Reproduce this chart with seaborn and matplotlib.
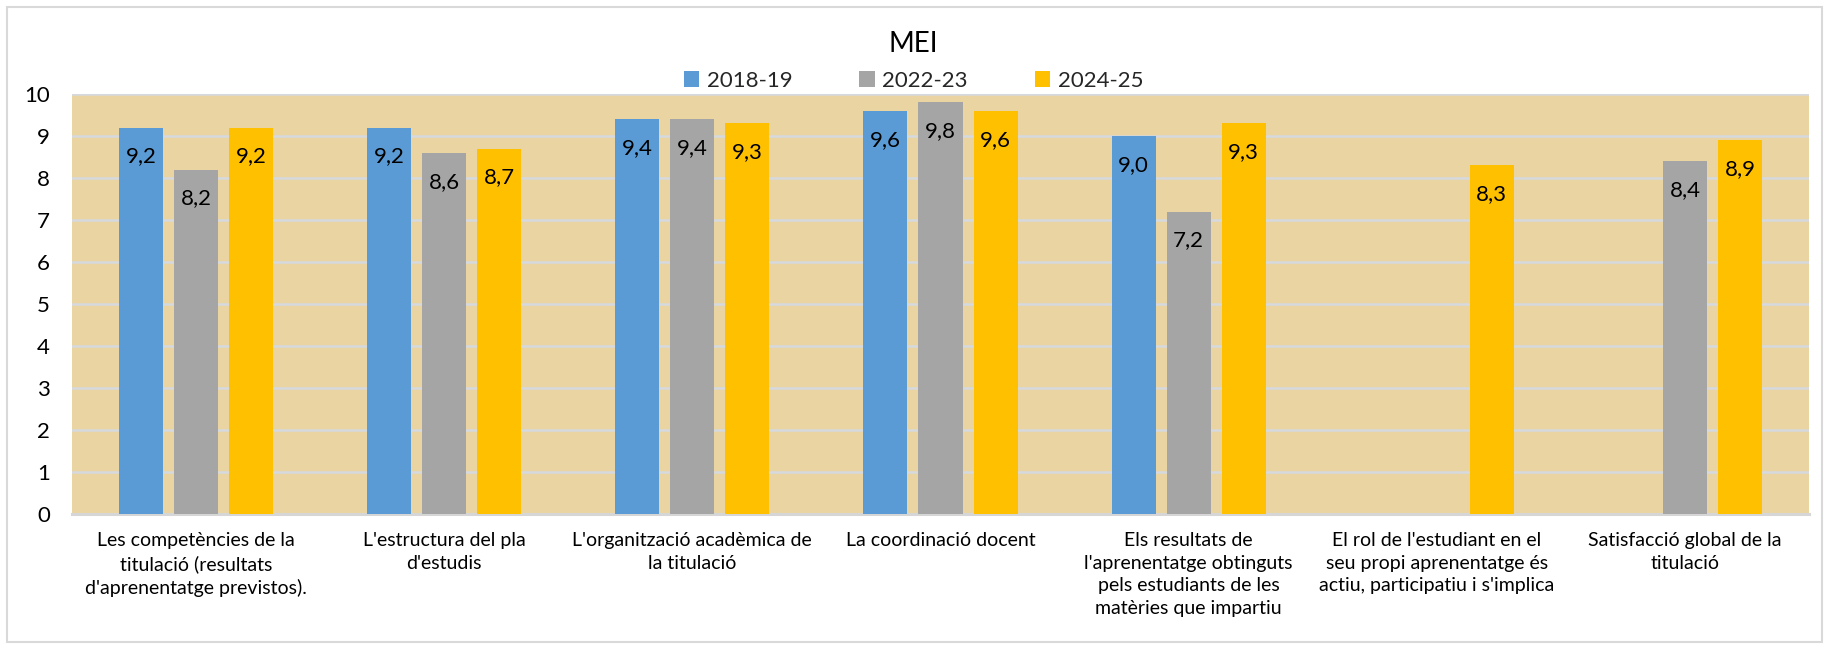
import numpy as np
import pandas as pd
import matplotlib
matplotlib.use("Agg")
import matplotlib.pyplot as plt
import matplotlib.patches as mpatches
import seaborn as sns

# ---- data ----
categories = [
    "Les competències de la\ntitulació (resultats\nd'aprenentatge previstos).",
    "L'estructura del pla\nd'estudis",
    "L'organització acadèmica de\nla titulació",
    "La coordinació docent",
    "Els resultats de\nl'aprenentatge obtinguts\npels estudiants de les\nmatèries que impartiu",
    "El rol de l'estudiant en el\nseu propi aprenentatge és\nactiu, participatiu i s'implica",
    "Satisfacció global de la\ntitulació",
]
years = ["2018-19", "2022-23", "2024-25"]
vals_2018_19 = [9.2, 9.2, 9.4, 9.6, 9.0, np.nan, np.nan]
vals_2022_23 = [8.2, 8.6, 9.4, 9.8, 7.2, np.nan, 8.4]
vals_2024_25 = [9.2, 8.7, 9.3, 9.6, 9.3, 8.3, 8.9]
yticks = list(range(0, 11))
colors = ["#5B9BD5", "#A5A5A5", "#FFC000"]

rows = []
for yr, vals in zip(years, [vals_2018_19, vals_2022_23, vals_2024_25]):
    for c, v in zip(categories, vals):
        if not np.isnan(v):
            rows.append({"cat": c, "year": yr, "val": v})
df = pd.DataFrame(rows)

sns.set_theme(style="white")
plt.rcParams["font.family"] = ["Lato", "DejaVu Sans"]

fig = plt.figure(figsize=(18.27, 6.46), dpi=100)
W, H = 1827, 646
ax = fig.add_axes([72 / W, 1 - 514 / H, (1809 - 72) / W, (514 - 94) / H])

sns.barplot(data=df, x="cat", y="val", hue="year", order=categories,
            hue_order=years, palette=colors, width=0.665, gap=0.2,
            saturation=1, ax=ax, legend=False, zorder=3,
            linewidth=0, edgecolor="none")

ax.set_facecolor("#EAD4A2")
ax.set_ylim(0, 10)
ax.set_xlim(-0.5, len(categories) - 0.5)
ax.set_yticks(yticks)
ax.set_yticklabels([str(t) for t in yticks], fontsize=16, color="black")
ax.yaxis.grid(True, color="#D6D9DD", linewidth=1.8, zorder=1)
ax.xaxis.grid(False)
ax.set_axisbelow(True)
for s in ["top", "left", "right"]:
    ax.spines[s].set_visible(False)
ax.spines["bottom"].set_color("#D6D6D6")
ax.spines["bottom"].set_linewidth(2.2)
ax.tick_params(axis="both", length=0)
ax.tick_params(axis="x", pad=13)
ax.tick_params(axis="y", pad=16)
ax.set_xlabel("")
ax.set_ylabel("")
for lab in ax.get_xticklabels():
    lab.set_fontsize(14)
    lab.set_color("black")
    lab.set_linespacing(1.4)
    lab.set_va("top")

for cont in ax.containers:
    labels = [f"{v:.1f}".replace(".", ",") for v in cont.datavalues]
    ax.bar_label(cont, labels=labels, label_type="edge", padding=-28,
                 fontsize=16, color="black", zorder=4)

# title and legend
fig.text(0.5, 1 - 44 / H, "MEI", ha="center", va="center", fontsize=20, color="black")
handles = [mpatches.Patch(facecolor=c, edgecolor="none", label=y) for c, y in zip(colors, years)]
fig.legend(handles=handles, loc="center", bbox_to_anchor=(0.5, 1 - 81 / H), ncol=3,
           frameon=False, fontsize=16, handlelength=0.7, handleheight=0.7,
           handletextpad=0.35, columnspacing=3.0)

# outer border
fig.patches.append(mpatches.Rectangle((7 / W, 4 / H), (W - 12) / W, (H - 11) / H,
                                      transform=fig.transFigure, fill=False,
                                      edgecolor="#D9D9D9", linewidth=1.5))

fig.savefig("out.png", dpi=100, facecolor="white")
